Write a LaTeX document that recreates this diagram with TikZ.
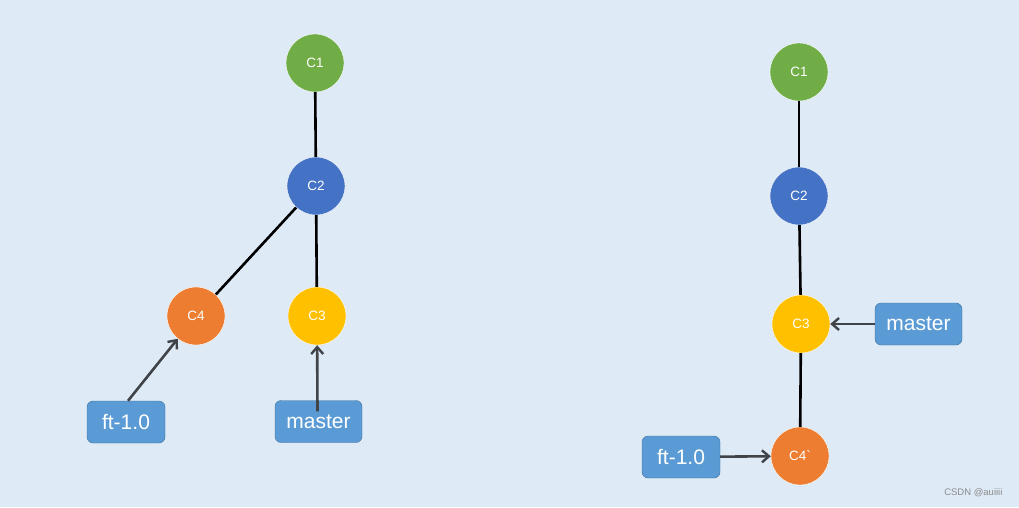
\documentclass[tikz,border=0pt]{standalone}
\usepackage{fontspec}
\setmainfont{Liberation Sans}
\newfontfamily\commitfont{Liberation Sans}
\definecolor{paper}{RGB}{222,234,246}
\definecolor{cgreen}{RGB}{112,173,71}
\definecolor{cblue}{RGB}{68,114,196}
\definecolor{corange}{RGB}{237,125,49}
\definecolor{cyellow}{RGB}{255,192,0}
\definecolor{tagfill}{RGB}{91,155,213}
\definecolor{tagline}{RGB}{65,113,156}
\definecolor{ptr}{RGB}{64,68,72}
\usetikzlibrary{arrows.meta,positioning}
\tikzset{
  commit/.style={circle, draw=white, thin, minimum size=58pt, inner sep=0pt,
                 text=white, font=\commitfont\fontsize{13.5}{15}\selectfont},
  branch/.style={draw=tagline, rounded corners=6pt, fill=tagfill, text=white,
                 minimum height=42pt, inner sep=0pt, font=\fontsize{21}{24}\selectfont},
  link/.style={black, line width=2.6pt},
  pointer/.style={-{Straight Barb[length=7pt,width=12pt,line width=2.4pt]}, ptr, line width=2.6pt},
}
\begin{document}
\begin{tikzpicture}[x=1pt,y=1pt]
    \fill[paper] (0,0) rectangle (1019,507);
    \useasboundingbox (0,0) rectangle (1019,507);
    % --- left: before the rebase ---
    \node[commit,fill=cgreen]  (lc1) at (315,444) {C1};
    \node[commit,fill=cblue]   (lc2) at (316,321) {C2};
    \node[commit,fill=corange] (lc4) at (196,191) {C4};
    \node[commit,fill=cyellow] (lc3) at (317,191) {C3};
    \node[branch,minimum width=78pt] (lft) at (126,85) {ft-1.0};
    \node[branch,minimum width=87pt] (lmaster) at (318.5,85.5) {master};
    \draw[link] (lc1) -- (lc2);
    \draw[link] (lc2) -- (lc4);
    \draw[link] (lc2) -- (lc3);
    \draw[pointer] (lft.north) ++(2,0) -- (lc4);
    \draw[pointer] (lmaster.north) ++(-1,-11) -- (lc3);
    % --- right: after the rebase ---
    \node[commit,fill=cgreen]  (rc1) at (799,435) {C1};
    \node[commit,fill=cblue]   (rc2) at (799,311) {C2};
    \node[commit,fill=cyellow] (rc3) at (801,183) {C3};
    \node[commit,fill=corange] (rc4) at (800,51) {C4`};
    \node[branch,minimum width=87pt] (rmaster) at (918.5,183) {master};
    \node[branch,minimum width=78pt] (rft) at (681,50) {ft-1.0};
    \draw[link] (rc1) -- (rc2);
    \draw[link] (rc2) -- (rc3);
    \draw[link] (rc3) -- (rc4);
    \draw[pointer] (rmaster) -- (rc3);
    \draw[pointer] (rft) -- (rc4);
    \node[font=\fontsize{9.5}{11}\selectfont, text=black!45, anchor=east] (mark) at (1006,14) {CSDN @auiiii};
\end{tikzpicture}
\end{document}
